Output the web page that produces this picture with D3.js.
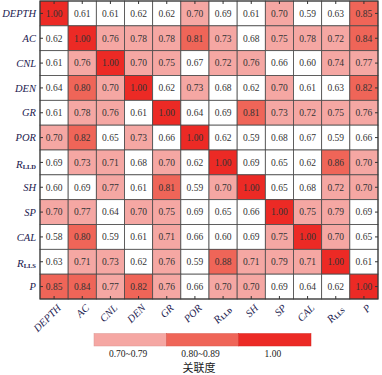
<!DOCTYPE html>
<html>
<head>
<meta charset="utf-8">
<script src="https://cdn.jsdelivr.net/npm/d3@7"></script>
<style>
  body { margin: 0; background: #fff; }
  svg { display: block; }
</style>
</head>
<body>
<div id="chart"></div>
<script>
// variables (rows and columns use the same order)
const names = ["DEPTH", "AC", "CNL", "DEN", "GR", "POR", "RLLD", "SH", "SP", "CAL", "RLLS", "P"];

// correlation values, one row per variable
const rowDEPTH = [1.00, 0.61, 0.61, 0.62, 0.62, 0.70, 0.69, 0.61, 0.70, 0.59, 0.63, 0.85];
const rowAC    = [0.62, 1.00, 0.76, 0.78, 0.78, 0.81, 0.73, 0.68, 0.75, 0.78, 0.72, 0.84];
const rowCNL   = [0.61, 0.76, 1.00, 0.70, 0.75, 0.67, 0.72, 0.76, 0.66, 0.60, 0.74, 0.77];
const rowDEN   = [0.64, 0.80, 0.70, 1.00, 0.62, 0.73, 0.68, 0.62, 0.70, 0.61, 0.63, 0.82];
const rowGR    = [0.61, 0.78, 0.76, 0.61, 1.00, 0.64, 0.69, 0.81, 0.73, 0.72, 0.75, 0.76];
const rowPOR   = [0.70, 0.82, 0.65, 0.73, 0.66, 1.00, 0.62, 0.59, 0.68, 0.67, 0.59, 0.66];
const rowRLLD  = [0.69, 0.73, 0.71, 0.68, 0.70, 0.62, 1.00, 0.69, 0.65, 0.62, 0.86, 0.70];
const rowSH    = [0.60, 0.69, 0.77, 0.61, 0.81, 0.59, 0.70, 1.00, 0.65, 0.68, 0.72, 0.70];
const rowSP    = [0.70, 0.77, 0.64, 0.70, 0.75, 0.69, 0.65, 0.66, 1.00, 0.75, 0.79, 0.69];
const rowCAL   = [0.58, 0.80, 0.59, 0.61, 0.71, 0.66, 0.60, 0.69, 0.75, 1.00, 0.70, 0.65];
const rowRLLS  = [0.63, 0.71, 0.73, 0.62, 0.76, 0.59, 0.88, 0.71, 0.79, 0.71, 1.00, 0.61];
const rowP     = [0.85, 0.84, 0.77, 0.82, 0.76, 0.66, 0.70, 0.70, 0.69, 0.64, 0.62, 1.00];
const matrix = [rowDEPTH, rowAC, rowCNL, rowDEN, rowGR, rowPOR, rowRLLD, rowSH, rowSP, rowCAL, rowRLLS, rowP];

// legend classes
const legendLabels = ["0.70~0.79", "0.80~0.89", "1.00"];
const legendTitle = "关联度";

const W = 382, H = 375;
const margin = {top: 1, right: 4, bottom: 76, left: 40};
const width = W - margin.left - margin.right;
const height = H - margin.top - margin.bottom;

const colors = ["#ffffff", "#f5a7a3", "#ef6558", "#ec2a25"];
const color = d3.scaleThreshold().domain([0.695, 0.795, 0.995]).range(colors);

const serif = "'Liberation Serif', 'DejaVu Serif', serif";
const labelColor = "#1c2150";

const svg = d3.select("#chart").append("svg").attr("width", W).attr("height", H);
const g = svg.append("g").attr("transform", `translate(${margin.left},${margin.top})`);

const x = d3.scaleBand().domain(names).range([0, width]);
const y = d3.scaleBand().domain(names).range([0, height]);

const cells = [];
matrix.forEach((row, i) => row.forEach((v, j) => cells.push({r: names[i], c: names[j], v})));

g.selectAll("rect.cell").data(cells).join("rect")
  .attr("class", "cell")
  .attr("x", d => x(d.c)).attr("y", d => y(d.r))
  .attr("width", x.bandwidth()).attr("height", y.bandwidth())
  .attr("fill", d => color(d.v))
  .attr("stroke", "#4a4a4a").attr("stroke-width", 0.8);

g.selectAll("text.val").data(cells).join("text")
  .attr("class", "val")
  .attr("x", d => x(d.c) + x.bandwidth() / 2)
  .attr("y", d => y(d.r) + y.bandwidth() / 2)
  .attr("dy", "0.35em")
  .attr("text-anchor", "middle")
  .attr("font-family", serif).attr("font-size", 9.5)
  .attr("fill", "#333")
  .text(d => d.v.toFixed(2));

// frame
g.append("rect").attr("width", width).attr("height", height)
  .attr("fill", "none").attr("stroke", "#333").attr("stroke-width", 1);

// inward ticks on all sides
const tk = 3;
names.forEach(n => {
  const cx = x(n) + x.bandwidth() / 2, cy = y(n) + y.bandwidth() / 2;
  g.append("line").attr("x1", cx).attr("x2", cx).attr("y1", height).attr("y2", height - tk).attr("stroke", "#333");
  g.append("line").attr("x1", cx).attr("x2", cx).attr("y1", 0).attr("y2", tk).attr("stroke", "#333");
  g.append("line").attr("x1", 0).attr("x2", tk).attr("y1", cy).attr("y2", cy).attr("stroke", "#333");
  g.append("line").attr("x1", width).attr("x2", width - tk).attr("y1", cy).attr("y2", cy).attr("stroke", "#333");
});

function writeLabel(sel, name) {
  sel.attr("font-family", serif).attr("fill", labelColor);
  if (name.startsWith("R") && name.length > 2) {
    sel.append("tspan").attr("font-style", "italic").attr("font-size", 11).text("R");
    sel.append("tspan").attr("font-size", 6.5).attr("font-weight", "bold").attr("dy", 1).text(name.slice(1));
  } else {
    sel.attr("font-style", "italic").attr("font-size", 10.5).text(name);
  }
}

// row labels
names.forEach(n => {
  const t = svg.append("text")
    .attr("x", margin.left - 4)
    .attr("y", margin.top + y(n) + y.bandwidth() / 2)
    .attr("dy", "0.35em")
    .attr("text-anchor", "end");
  writeLabel(t, n);
});

// column labels (rotated)
names.forEach(n => {
  const px = margin.left + x(n) + x.bandwidth() / 2 + 5;
  const py = margin.top + height + 7;
  const t = svg.append("text")
    .attr("transform", `translate(${px},${py}) rotate(-45)`)
    .attr("text-anchor", "end")
    .attr("dy", "0.35em");
  writeLabel(t, n);
});

// legend
const lx = d3.scaleBand().domain(legendLabels).range([94, 311]);
const lg = svg.append("g");
lg.selectAll("rect").data(legendLabels).join("rect")
  .attr("x", d => lx(d)).attr("y", 333.5)
  .attr("width", lx.bandwidth()).attr("height", 12.5)
  .attr("fill", (d, i) => colors[i + 1])
  .attr("stroke", (d, i) => d3.color(colors[i + 1]).darker(0.3)).attr("stroke-width", 0.5);
lg.selectAll("text.ll").data(legendLabels).join("text")
  .attr("class", "ll")
  .attr("x", d => lx(d) + lx.bandwidth() / 2 - 2)
  .attr("y", 357)
  .attr("text-anchor", "middle")
  .attr("font-family", serif).attr("font-size", 9.5).attr("fill", "#222")
  .text(d => d);
lg.append("text")
  .attr("x", 199).attr("y", 372)
  .attr("text-anchor", "middle")
  .attr("font-family", "'Noto Sans CJK SC', sans-serif").attr("font-size", 11).attr("fill", "#222")
  .text(legendTitle);
</script>
</body>
</html>
